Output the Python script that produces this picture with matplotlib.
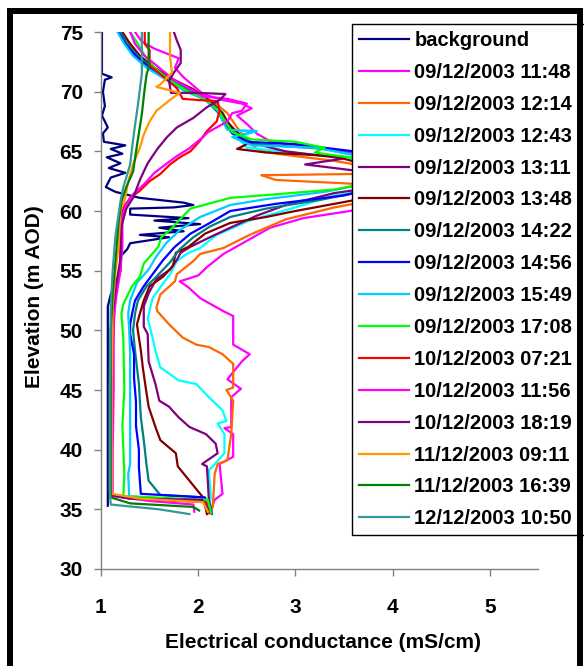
import matplotlib
matplotlib.use("Agg")
import matplotlib.pyplot as plt
from matplotlib.patches import Rectangle

# Conductance profiles: (electrical conductance mS/cm, elevation m AOD), top to bottom
background = [(1.01, 75.0), (1.01, 71.5), (1.11, 71.2), (1.04, 71.0), (1.02, 70.0), (1.04, 68.8),
              (1.01, 68.0), (1.07, 67.0), (1.02, 66.5), (1.03, 65.8), (1.25, 65.5), (1.10, 65.2),
              (1.22, 64.8), (1.06, 64.5), (1.20, 64.0), (1.08, 63.6), (1.25, 63.2), (1.10, 62.8),
              (1.05, 62.0), (1.15, 61.6), (1.40, 61.1), (1.85, 60.7), (1.95, 60.5), (1.75, 60.3),
              (1.30, 60.2), (1.30, 59.7), (1.90, 59.4), (1.55, 59.2), (2.02, 58.9), (1.60, 58.6),
              (1.85, 58.3), (1.40, 58.0), (1.70, 57.8), (1.30, 57.3), (1.27, 56.8), (1.20, 56.2),
              (1.20, 55.0), (1.15, 54.0), (1.10, 53.0), (1.07, 52.0), (1.07, 45.0), (1.07, 36.0),
              (1.07, 35.3)]

p_0912_1148 = [(1.35, 75.0), (1.42, 74.2), (1.55, 73.6), (1.80, 72.8), (1.76, 72.0), (1.85, 71.2),
               (1.95, 70.5), (2.05, 69.8), (2.25, 69.3), (2.45, 69.0), (2.55, 68.6), (2.40, 68.0),
               (2.50, 67.3), (2.60, 66.5), (2.75, 65.8), (3.15, 65.4), (3.80, 64.6), (4.10, 63.5),
               (4.20, 62.0), (4.00, 60.8), (3.56, 60.0), (3.08, 59.4), (2.74, 58.6), (2.50, 57.5),
               (2.26, 56.4), (2.09, 55.3), (2.00, 54.6), (1.81, 54.1), (1.90, 53.6), (2.02, 52.7),
               (2.26, 51.6), (2.36, 51.2), (2.36, 48.8), (2.53, 48.0), (2.45, 47.4), (2.30, 45.9),
               (2.44, 45.1), (2.34, 44.4), (2.34, 41.9), (2.27, 41.8), (2.36, 41.3), (2.36, 39.4),
               (2.22, 38.8), (2.25, 36.3), (2.17, 35.8), (2.12, 34.7)]

p_0912_1214 = [(1.20, 75.0), (1.30, 74.0), (1.40, 73.0), (1.55, 72.0), (1.75, 71.0), (1.95, 70.0),
               (2.15, 69.2), (2.30, 68.2), (2.40, 67.0), (2.50, 66.0), (2.60, 65.2), (2.80, 64.8),
               (3.40, 64.2), (3.90, 63.5), (3.60, 63.1), (2.65, 63.0), (2.80, 62.6), (3.80, 62.2),
               (4.00, 61.2), (3.40, 60.3), (2.90, 59.3), (2.53, 58.0), (2.26, 56.9), (2.02, 56.4),
               (1.95, 55.8), (1.78, 54.7), (1.76, 54.1), (1.61, 53.0), (1.57, 51.9), (1.58, 51.6),
               (1.70, 50.5), (1.84, 49.4), (1.98, 48.8), (2.11, 48.6), (2.25, 48.0), (2.36, 47.2),
               (2.36, 45.2), (2.29, 45.0), (2.36, 44.1), (2.34, 41.3), (2.30, 39.1), (2.20, 38.8),
               (2.17, 38.0), (2.15, 35.2), (2.11, 34.7)]

p_0912_1243 = [(1.20, 75.0), (1.28, 74.0), (1.35, 73.0), (1.50, 72.0), (1.70, 71.0), (1.90, 70.0),
               (2.10, 69.3), (2.25, 68.3), (2.30, 67.3), (2.35, 66.7), (2.60, 66.7), (2.40, 66.2),
               (2.50, 65.3), (3.20, 64.7), (3.60, 64.5), (4.10, 63.3), (4.00, 62.0), (3.40, 61.3),
               (3.00, 60.3), (2.53, 59.2), (2.36, 58.6), (2.19, 58.0), (2.02, 56.9), (1.88, 56.4),
               (1.78, 55.8), (1.71, 54.7), (1.61, 53.6), (1.53, 52.7), (1.49, 51.3), (1.48, 51.0),
               (1.53, 49.4), (1.56, 48.3), (1.61, 46.9), (1.80, 45.8), (1.98, 45.5), (2.11, 44.4),
               (2.25, 43.3), (2.29, 42.4), (2.20, 42.2), (2.27, 41.3), (2.27, 39.7), (2.15, 38.6),
               (2.11, 38.3), (2.13, 36.1), (2.11, 34.7)]

p_0912_1311 = [(1.20, 75.0), (1.25, 74.0), (1.35, 73.0), (1.50, 72.0), (1.70, 71.0), (1.90, 70.2),
               (2.10, 69.3), (2.20, 68.4), (2.30, 67.4), (2.40, 66.6), (2.50, 65.8), (2.90, 65.0),
               (3.50, 64.4), (3.10, 63.9), (3.80, 63.2), (4.00, 62.2), (3.40, 61.5), (2.90, 60.5),
               (2.60, 59.6), (2.33, 58.6), (2.12, 57.8), (1.92, 57.0), (1.82, 56.5), (1.78, 55.9),
               (1.71, 55.1), (1.57, 54.3), (1.49, 53.1), (1.44, 52.0), (1.44, 50.3), (1.48, 49.7),
               (1.49, 47.4), (1.56, 45.5), (1.60, 44.1), (1.70, 43.6), (1.80, 42.7), (1.91, 41.9),
               (2.08, 41.3), (2.18, 40.5), (2.20, 39.7), (2.04, 38.8), (2.09, 38.6), (2.11, 35.8),
               (2.14, 34.7)]

p_0912_1348 = [(1.22, 75.0), (1.30, 74.0), (1.40, 73.0), (1.55, 72.0), (1.75, 71.0), (1.95, 70.2),
               (2.15, 69.0), (2.25, 68.2), (2.30, 67.5), (2.35, 67.0), (2.45, 66.2), (2.50, 65.6),
               (2.40, 65.2), (2.70, 64.9), (3.40, 64.6), (3.90, 63.5), (4.20, 62.3), (3.80, 61.2),
               (3.00, 60.0), (2.70, 59.5), (2.33, 59.0), (2.07, 58.1), (1.90, 57.0), (1.77, 56.5),
               (1.74, 55.4), (1.64, 54.5), (1.50, 53.7), (1.44, 52.5), (1.40, 51.4), (1.37, 50.5),
               (1.41, 48.3), (1.43, 46.9), (1.46, 45.2), (1.49, 43.6), (1.56, 41.9), (1.61, 40.8),
               (1.77, 39.7), (1.79, 38.6), (1.91, 37.4), (1.99, 36.6), (2.04, 36.1), (2.08, 35.0),
               (2.09, 34.6)]

p_0912_1422 = [(1.20, 75.0), (1.27, 74.0), (1.38, 73.0), (1.52, 72.0), (1.72, 71.0), (1.92, 70.0),
               (2.10, 69.2), (2.20, 68.4), (2.30, 67.2), (2.40, 66.3), (2.60, 65.6), (3.30, 65.2),
               (3.60, 64.7), (4.00, 63.5), (4.00, 62.2), (3.30, 61.0), (2.70, 60.2), (2.33, 59.5),
               (2.12, 58.7), (1.95, 57.8), (1.81, 56.8), (1.71, 55.7), (1.57, 54.5), (1.47, 53.7),
               (1.38, 52.5), (1.35, 51.4), (1.33, 50.0), (1.35, 48.3), (1.39, 45.5), (1.41, 42.7),
               (1.44, 40.8), (1.47, 38.6), (1.49, 37.4), (1.61, 36.2), (2.05, 36.0), (2.13, 35.2),
               (2.14, 34.6)]

p_0912_1456 = [(1.18, 75.0), (1.25, 74.0), (1.36, 73.0), (1.50, 72.0), (1.70, 71.0), (1.90, 70.0),
               (2.08, 69.3), (2.20, 68.3), (2.28, 67.3), (2.35, 66.5), (2.50, 65.8), (3.00, 65.6),
               (3.60, 65.0), (4.00, 63.8), (4.10, 62.5), (3.50, 61.3), (2.80, 60.6), (2.33, 60.0),
               (2.12, 59.0), (1.92, 58.1), (1.76, 57.0), (1.64, 55.9), (1.54, 54.8), (1.44, 53.7),
               (1.35, 52.5), (1.32, 51.4), (1.30, 50.5), (1.30, 49.7), (1.34, 48.0), (1.34, 46.0),
               (1.36, 44.0), (1.36, 42.0), (1.39, 40.0), (1.39, 38.5), (1.41, 36.3), (2.07, 36.0),
               (2.12, 34.7)]

p_0912_1549 = [(1.17, 75.0), (1.24, 74.0), (1.33, 73.0), (1.47, 72.0), (1.67, 71.0), (1.87, 70.0),
               (2.06, 69.4), (2.20, 68.4), (2.26, 67.4), (2.30, 66.8), (2.60, 66.7), (2.35, 66.2),
               (2.55, 65.5), (3.20, 65.3), (3.60, 64.7), (3.90, 63.8), (4.00, 62.7), (3.30, 61.6),
               (2.70, 61.0), (2.33, 60.5), (2.02, 59.5), (1.81, 58.4), (1.67, 57.3), (1.57, 56.2),
               (1.49, 55.1), (1.37, 54.0), (1.30, 52.5), (1.28, 51.4), (1.29, 50.0), (1.30, 48.0),
               (1.30, 44.0), (1.30, 40.0), (1.30, 38.8), (1.28, 38.0), (1.29, 36.1), (2.10, 35.7),
               (2.12, 34.8)]

p_0912_1708 = [(1.30, 75.0), (1.38, 74.0), (1.45, 73.0), (1.55, 72.0), (1.70, 71.0), (1.90, 70.0),
               (2.05, 69.5), (2.20, 68.5), (2.28, 67.5), (2.35, 66.6), (2.55, 66.0), (3.00, 65.8),
               (3.30, 65.3), (3.20, 64.9), (3.55, 64.5), (3.80, 63.5), (3.90, 62.6), (3.40, 61.8),
               (2.80, 61.4), (2.33, 61.1), (1.92, 60.2), (1.80, 59.2), (1.71, 58.4), (1.62, 57.8),
               (1.59, 57.0), (1.44, 55.6), (1.40, 54.5), (1.32, 53.7), (1.23, 52.2), (1.21, 51.4),
               (1.23, 49.2), (1.24, 45.0), (1.22, 42.0), (1.24, 38.0), (1.23, 36.1), (2.10, 35.8),
               (2.13, 34.7)]

p_1012_0721 = [(1.45, 75.0), (1.45, 74.0), (1.50, 73.5), (1.50, 72.2), (1.65, 71.2), (1.78, 70.3),
               (1.84, 69.4), (2.00, 69.3), (2.20, 69.2), (2.22, 68.4), (2.19, 67.5), (2.09, 66.7),
               (2.02, 65.9), (1.92, 65.0), (1.81, 64.5), (1.71, 63.9), (1.61, 63.1), (1.50, 62.5),
               (1.40, 61.7), (1.30, 61.1), (1.23, 60.3), (1.20, 59.0), (1.20, 55.0), (1.17, 54.0),
               (1.14, 52.0), (1.12, 48.0), (1.11, 40.0), (1.11, 36.2), (1.30, 35.9), (2.08, 35.6),
               (2.11, 34.7)]

p_1012_1156 = [(1.30, 75.0), (1.35, 74.0), (1.45, 73.0), (1.60, 72.0), (1.75, 71.0), (1.90, 70.3),
               (2.05, 69.6), (2.30, 69.4), (2.50, 69.0), (2.45, 68.4), (2.35, 68.2), (2.30, 67.5),
               (2.10, 66.6), (2.05, 66.2), (1.90, 65.2), (1.78, 64.6), (1.68, 64.0), (1.55, 63.2),
               (1.45, 62.3), (1.33, 61.4), (1.25, 60.4), (1.22, 59.5), (1.22, 57.0), (1.20, 55.0),
               (1.16, 53.0), (1.13, 51.0), (1.13, 45.0), (1.12, 40.0), (1.12, 36.1), (1.50, 35.7),
               (1.95, 35.4), (1.96, 34.8)]

p_1012_1819 = [(1.75, 75.0), (1.78, 74.3), (1.82, 73.5), (1.82, 72.4), (1.75, 71.6), (1.70, 70.9),
               (1.72, 69.9), (2.00, 69.9), (2.28, 69.8), (2.22, 69.3), (2.09, 68.7), (1.95, 67.8),
               (1.78, 67.0), (1.68, 66.2), (1.58, 65.2), (1.48, 64.0), (1.40, 62.6), (1.33, 61.1),
               (1.26, 60.2), (1.21, 58.7), (1.20, 56.0), (1.15, 53.5), (1.10, 50.0), (1.10, 40.0),
               (1.10, 36.2), (1.30, 35.9), (2.04, 35.8), (2.10, 35.0)]

p_1112_0911 = [(1.71, 75.0), (1.71, 73.0), (1.73, 71.6), (1.61, 70.6), (1.57, 70.4), (1.81, 69.9),
               (1.74, 69.5), (1.57, 68.4), (1.50, 67.5), (1.44, 66.4), (1.40, 65.3), (1.33, 63.9),
               (1.28, 62.5), (1.25, 61.1), (1.20, 60.0), (1.18, 57.0), (1.15, 55.0), (1.12, 52.0),
               (1.11, 45.0), (1.11, 36.3), (1.40, 35.9), (2.05, 35.6), (2.10, 34.8)]

p_1112_1639 = [(1.49, 75.0), (1.49, 72.0), (1.47, 71.5), (1.45, 70.3), (1.42, 68.1), (1.37, 65.5),
               (1.33, 63.3), (1.26, 62.0), (1.21, 60.8), (1.18, 59.0), (1.15, 56.0), (1.12, 53.0),
               (1.10, 50.0), (1.10, 40.0), (1.10, 36.0), (1.30, 35.5), (1.95, 35.2), (2.01, 34.9)]

p_1212_1050 = [(1.42, 75.0), (1.42, 71.5), (1.38, 68.9), (1.35, 67.2), (1.32, 65.3), (1.30, 63.9),
               (1.23, 62.0), (1.20, 60.8), (1.15, 58.0), (1.12, 55.0), (1.10, 52.0), (1.09, 45.0),
               (1.09, 36.5), (1.10, 35.4), (1.60, 35.0), (1.91, 34.6)]

series_labels = ["background", "09/12/2003 11:48", "09/12/2003 12:14", "09/12/2003 12:43",
                 "09/12/2003 13:11", "09/12/2003 13:48", "09/12/2003 14:22", "09/12/2003 14:56",
                 "09/12/2003 15:49", "09/12/2003 17:08", "10/12/2003 07:21", "10/12/2003 11:56",
                 "10/12/2003 18:19", "11/12/2003 09:11", "11/12/2003 16:39", "12/12/2003 10:50"]

profiles = [background, p_0912_1148, p_0912_1214, p_0912_1243, p_0912_1311, p_0912_1348,
            p_0912_1422, p_0912_1456, p_0912_1549, p_0912_1708, p_1012_0721, p_1012_1156,
            p_1012_1819, p_1112_0911, p_1112_1639, p_1212_1050]

series_colors = ["#000080", "#FF00FF", "#FF6600", "#00FFFF", "#800080", "#800000", "#008080",
                 "#0000FF", "#00CCFF", "#00FF00", "#FF0000", "#FF00FF", "#800080", "#FF9900",
                 "#008000", "#339999"]

x_ticks = [1, 2, 3, 4, 5]
y_ticks = [30, 35, 40, 45, 50, 55, 60, 65, 70, 75]

plt.rcParams["font.family"] = ["Liberation Sans", "DejaVu Sans"]
plt.rcParams["font.weight"] = "bold"

W, H = 584, 666
fig = plt.figure(figsize=(W / 100, H / 100), dpi=100)
ax = fig.add_axes([101 / W, 1 - 569 / H, 437.4 / W, 537 / H])

for label, pts, color in zip(series_labels, profiles, series_colors):
    ec = [p[0] for p in pts]
    el = [p[1] for p in pts]
    ax.plot(ec, el, color=color, lw=1.6, label=label)

ax.set_xlim(1, 5.5)
ax.set_ylim(30, 75)
ax.set_xticks(x_ticks)
ax.set_yticks(y_ticks)
for side in ("top", "right"):
    ax.spines[side].set_visible(False)
for side in ("left", "bottom"):
    ax.spines[side].set_color("#808080")
    ax.spines[side].set_linewidth(1.0)
ax.tick_params(axis="both", direction="out", length=5, width=1, color="#808080",
               labelcolor="black", labelsize=15)
ax.tick_params(axis="x", pad=16)
ax.tick_params(axis="y", pad=8)
for t in ax.get_xticklabels() + ax.get_yticklabels():
    t.set_fontweight("bold")

fig.text(35 / W, 1 - 297 / H, "Elevation (m AOD)", rotation=90, ha="center", va="center",
         fontsize=15, fontweight="bold")
fig.text(323 / W, 1 - 642 / H, "Electrical conductance (mS/cm)", ha="center", va="center",
         fontsize=15, fontweight="bold")

handles, labels = ax.get_legend_handles_labels()
leg = fig.legend(handles, labels, loc="upper left", mode="expand",
                 bbox_to_anchor=(352 / W, 0.0, 0.45, 1 - 24 / H), borderaxespad=0.0,
                 fontsize=14.5, handlelength=2.5, handletextpad=0.25, labelspacing=0.64,
                 borderpad=0.35, fancybox=False, framealpha=1.0, edgecolor="black")
leg.get_frame().set_linewidth(1.0)
for t in leg.get_texts():
    t.set_fontweight("bold")

frame = Rectangle((10 / W, -0.05), (580 - 10) / W, 1 - 11 / H + 0.05, transform=fig.transFigure,
                  fill=False, lw=4.3, edgecolor="black", zorder=10)
fig.add_artist(frame)

fig.savefig("out.png", dpi=100)
